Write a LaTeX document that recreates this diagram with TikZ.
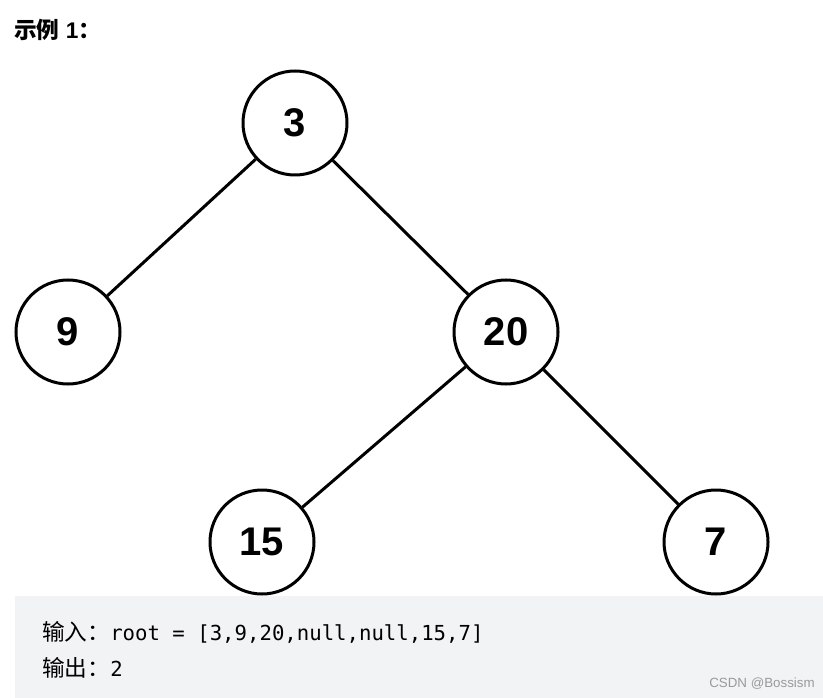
\documentclass[tikz,border=0pt]{standalone}
\usepackage{fontspec}
\setmainfont{Liberation Sans}
\setmonofont{DejaVu Sans Mono}
\newfontfamily\cjk{Noto Sans CJK SC}
\definecolor{boxgray}{HTML}{F2F3F5}
\definecolor{markgray}{HTML}{9A9A9A}
\tikzset{
    treenode/.style={draw, circle, line width=2.25pt, minimum size=78pt, inner sep=0pt,
        font=\fontsize{30}{33}\selectfont\bfseries},
    treeedge/.style={line width=2.25pt}
}
\begin{document}
\begin{tikzpicture}[x=0.75pt, y=-0.75pt]
    \useasboundingbox (0,0) rectangle (823,698);
    \fill[boxgray] (15,596) rectangle (823,698);
    \node[anchor=west, inner sep=0pt, font=\fontsize{17}{20}\selectfont\bfseries] (title) at (14,30) {{\cjk 示例} 1\cjk ：};
    \node[treenode] (n3) at (295,123) {3};
    \node[treenode] (n9) at (68,332) {9};
    \node[treenode] (n20) at (506,332) {20};
    \node[treenode] (n15) at (262,542) {15};
    \node[treenode] (n7) at (716,542) {7};
    \draw[treeedge] (n3) -- (n9);
    \draw[treeedge] (n3) -- (n20);
    \draw[treeedge] (n20) -- (n15);
    \draw[treeedge] (n20) -- (n7);
    \node[anchor=west, inner sep=0pt, font=\fontsize{15.5}{18}\selectfont] (input) at (42,632) {{\fontsize{17}{18}\selectfont\cjk 输入：}\ttfamily root = [3,9,20,null,null,15,7]};
    \node[anchor=west, inner sep=0pt, font=\fontsize{15.5}{18}\selectfont] (output) at (42,668) {{\fontsize{17}{18}\selectfont\cjk 输出：}\ttfamily 2};
    \node[anchor=east, inner sep=0pt, text=markgray, font=\fontsize{10}{12}\selectfont] (mark) at (815,684) {CSDN @Bossism};
\end{tikzpicture}
\end{document}
